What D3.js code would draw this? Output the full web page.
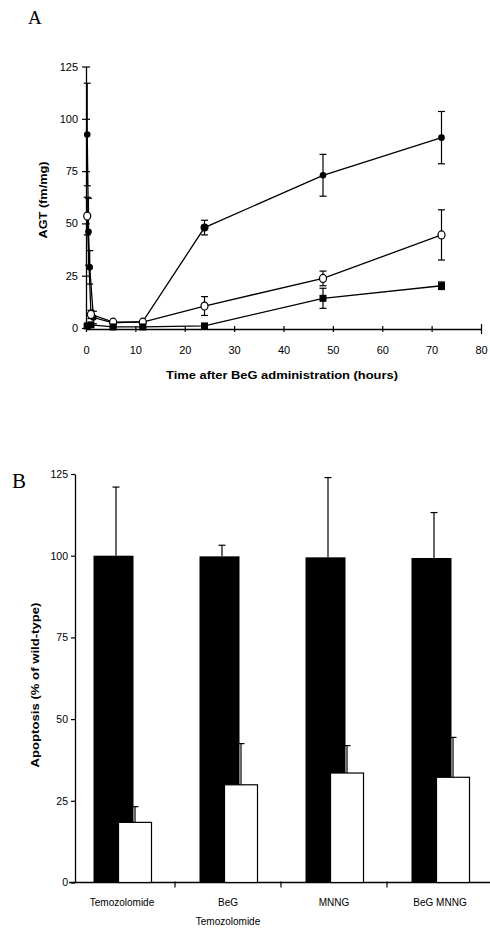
<!DOCTYPE html>
<html>
<head>
<meta charset="utf-8">
<script src="https://cdn.jsdelivr.net/npm/d3@7"></script>
<style>
  body { margin: 0; background: #fff; }
  svg { display: block; }
  text { font-family: "Liberation Sans", Arial, sans-serif; fill: #000; }
</style>
</head>
<body>
<div id="chart"></div>
<script>
// ---- Panel A data: AGT (fm/mg) vs time after BeG (hours)
const xTicksA = [0, 10, 20, 30, 40, 50, 60, 70, 80];
const yTicksA = [0, 25, 50, 75, 100, 125];

const filledCircleT = [0.25, 0.5, 0.75, 1.5, 5.5, 11.5, 24, 48, 72];
const filledCircleV = [92.5, 46, 29, 5, 2.5, 3, 48, 73, 91];
const filledCircleE = [24.5, 16, 8, 3, 0.5, 0.5, 3.5, 10, 12.5];

const openCircleT = [0.25, 1, 5.5, 11.5, 24, 48, 72];
const openCircleV = [53.5, 6.5, 2.8, 2.8, 10.5, 23.7, 44.5];
const openCircleE = [9, 2, 0.5, 0.5, 4.5, 3.5, 12];

const squareT = [0.25, 1, 5.5, 11.5, 24, 48, 72];
const squareV = [1, 1.5, 0.5, 0.5, 1, 14.2, 20.2];
const squareE = [0.5, 0.5, 0.3, 0.3, 0.5, 4.8, 1.8];

// ---- Panel B data: apoptosis (% of wild-type)
const groupsB = ["Temozolomide", "BeG Temozolomide", "MNNG", "BeG MNNG"];
const groupLines = [["Temozolomide"], ["BeG", "Temozolomide"], ["MNNG"], ["BeG MNNG"]];
const blackV = [100, 99.8, 99.5, 99.3];
const blackE = [21, 3.4, 24.4, 13.9];
const whiteV = [18.4, 29.9, 33.5, 32.2];
const whiteE = [4.8, 12.6, 8.4, 12.2];
const yTicksB = [0, 25, 50, 75, 100, 125];

const svg = d3.select("#chart").append("svg")
  .attr("width", 490)
  .attr("height", 929);

// panel letters
svg.append("text").attr("x", 28).attr("y", 24)
  .style("font-family", "'Liberation Serif', 'Times New Roman', serif")
  .style("font-size", "19px").text("A");
svg.append("text").attr("x", 12).attr("y", 488)
  .style("font-family", "'Liberation Serif', 'Times New Roman', serif")
  .style("font-size", "21px").text("B");

// =================== Panel A ===================
const x = d3.scaleLinear().domain([0, 80]).range([86, 481]);
const y = d3.scaleLinear().domain([0, 125]).range([328, 66.5]);

const axA = svg.append("g")
  .attr("transform", `translate(0,${y(0) + 1})`)
  .call(d3.axisBottom(x).tickValues(xTicksA).tickSizeOuter(0));
axA.select(".domain").attr("stroke-width", 1.3);
axA.selectAll(".tick line")
  .attr("y1", d => d === 80 ? -5 : -3)
  .attr("y2", d => d === 80 ? 5 : 3)
  .attr("stroke-width", 1.2);
axA.selectAll(".tick text")
  .attr("y", 21).attr("dy", "0.35em")
  .style("font-size", "11px");

const ayA = svg.append("g")
  .attr("transform", `translate(${x(0)},0)`)
  .call(d3.axisLeft(y).tickValues(yTicksA).tickSizeOuter(0));
ayA.select(".domain").attr("stroke-width", 1.3);
ayA.selectAll(".tick line").attr("x1", -4).attr("x2", 4).attr("stroke-width", 1.2);
ayA.selectAll(".tick text").attr("x", -8).style("font-size", "11px");

svg.append("text")
  .attr("x", 282).attr("y", 379)
  .attr("text-anchor", "middle")
  .attr("textLength", 232).attr("lengthAdjust", "spacingAndGlyphs")
  .style("font-size", "10.5px").style("font-weight", "bold")
  .text("Time after BeG administration (hours)");

svg.append("text")
  .attr("transform", "translate(47,200) rotate(-90)")
  .attr("text-anchor", "middle")
  .attr("textLength", 77).attr("lengthAdjust", "spacingAndGlyphs")
  .style("font-size", "10.5px").style("font-weight", "bold")
  .text("AGT (fm/mg)");

const line = d3.line().x(d => x(d.t)).y(d => y(d.v));

function series(ts, vs, es) {
  return ts.map((t, i) => ({ t: t, v: vs[i], e: es[i] }));
}
const seriesA = [
  { kind: "fc", pts: series(filledCircleT, filledCircleV, filledCircleE) },
  { kind: "oc", pts: series(openCircleT, openCircleV, openCircleE) },
  { kind: "sq", pts: series(squareT, squareV, squareE) }
];

seriesA.forEach(s => {
  svg.append("path")
    .datum(s.pts)
    .attr("d", line)
    .attr("fill", "none")
    .attr("stroke", "#000")
    .attr("stroke-width", 1.3);

  const eb = svg.append("g").selectAll("g").data(s.pts).enter().append("g")
    .attr("stroke", "#000").attr("stroke-width", 1.2);
  eb.append("line")
    .attr("x1", d => x(d.t)).attr("x2", d => x(d.t))
    .attr("y1", d => y(d.v - d.e)).attr("y2", d => y(d.v + d.e));
  eb.append("line")
    .attr("x1", d => x(d.t) - 3.5).attr("x2", d => x(d.t) + 3.5)
    .attr("y1", d => y(d.v + d.e)).attr("y2", d => y(d.v + d.e));
  eb.append("line")
    .attr("x1", d => x(d.t) - 3.5).attr("x2", d => x(d.t) + 3.5)
    .attr("y1", d => y(d.v - d.e)).attr("y2", d => y(d.v - d.e));

  const m = svg.append("g").selectAll("g").data(s.pts).enter();
  if (s.kind === "fc") {
    m.append("circle")
      .attr("cx", d => x(d.t)).attr("cy", d => y(d.v))
      .attr("r", d => d.t === 24 ? 4 : 3.3)
      .attr("fill", "#000");
  } else if (s.kind === "oc") {
    m.append("ellipse")
      .attr("cx", d => x(d.t)).attr("cy", d => y(d.v))
      .attr("rx", 3.5).attr("ry", 4)
      .attr("fill", "#fff").attr("stroke", "#000").attr("stroke-width", 1.2);
  } else {
    m.append("rect")
      .attr("x", d => x(d.t) - 3.5).attr("y", d => y(d.v) - 3.5)
      .attr("width", 7).attr("height", 7)
      .attr("fill", "#000");
  }
});

// =================== Panel B ===================
const xB = d3.scaleBand().domain(groupsB).range([69, 493]).padding(0);
const yB = d3.scaleLinear().domain([0, 125]).range([882.5, 474]);

const axB = svg.append("g")
  .attr("transform", `translate(0,${yB(0)})`)
  .call(d3.axisBottom(xB).tickSize(0).tickSizeOuter(0));
axB.select(".domain").attr("stroke-width", 1.3).attr("d", "M69,0H490");
axB.selectAll(".tick text").remove();
axB.selectAll(".tick").each(function (d, i) {
  const t = d3.select(this);
  const lines = groupLines[i];
  lines.forEach((s, j) => {
    t.append("text")
      .attr("y", 20 + j * 19).attr("dy", "0.35em")
      .attr("text-anchor", "middle")
      .attr("fill", "#000")
      .style("font-size", "10px")
      .text(s);
  });
});
// boundary ticks between groups
axB.selectAll(".sep").data(groupsB.slice(1)).enter().append("line")
  .attr("x1", d => xB(d)).attr("x2", d => xB(d))
  .attr("y1", -1).attr("y2", 5)
  .attr("stroke", "#000").attr("stroke-width", 1.2);

const ayB = svg.append("g")
  .attr("transform", "translate(75,0)")
  .call(d3.axisLeft(yB).tickValues(yTicksB).tickSizeInner(4).tickSizeOuter(0).tickPadding(3));
ayB.select(".domain").attr("stroke-width", 1.3);
ayB.selectAll(".tick line").attr("stroke-width", 1.2);
ayB.selectAll(".tick text").style("font-size", "10.5px");

svg.append("text")
  .attr("transform", "translate(39,685) rotate(-90)")
  .attr("text-anchor", "middle")
  .attr("textLength", 165).attr("lengthAdjust", "spacingAndGlyphs")
  .style("font-size", "11px").style("font-weight", "bold")
  .text("Apoptosis (% of wild-type)");

const bw = xB.bandwidth();
const gB = svg.append("g").selectAll("g").data(groupsB).enter().append("g");

// black bars with upper error bars
gB.append("line")
  .attr("x1", (d, i) => xB(d) + bw / 2 - 6).attr("x2", (d, i) => xB(d) + bw / 2 - 6)
  .attr("y1", (d, i) => yB(blackV[i])).attr("y2", (d, i) => yB(blackV[i] + blackE[i]))
  .attr("stroke", "#000").attr("stroke-width", 1.2);
gB.append("line")
  .attr("x1", (d, i) => xB(d) + bw / 2 - 9.5).attr("x2", (d, i) => xB(d) + bw / 2 - 2.5)
  .attr("y1", (d, i) => yB(blackV[i] + blackE[i])).attr("y2", (d, i) => yB(blackV[i] + blackE[i]))
  .attr("stroke", "#000").attr("stroke-width", 1.2);
gB.append("rect")
  .attr("x", d => xB(d) + bw / 2 - 28.5)
  .attr("y", (d, i) => yB(blackV[i]))
  .attr("width", 40)
  .attr("height", (d, i) => yB(0) - yB(blackV[i]))
  .attr("fill", "#000");

// white bars with upper error bars
gB.append("line")
  .attr("x1", d => xB(d) + bw / 2 + 13).attr("x2", d => xB(d) + bw / 2 + 13)
  .attr("y1", (d, i) => yB(whiteV[i])).attr("y2", (d, i) => yB(whiteV[i] + whiteE[i]))
  .attr("stroke", "#000").attr("stroke-width", 1.2);
gB.append("line")
  .attr("x1", d => xB(d) + bw / 2 + 9.5).attr("x2", d => xB(d) + bw / 2 + 16.5)
  .attr("y1", (d, i) => yB(whiteV[i] + whiteE[i])).attr("y2", (d, i) => yB(whiteV[i] + whiteE[i]))
  .attr("stroke", "#000").attr("stroke-width", 1.2);
gB.append("rect")
  .attr("x", d => xB(d) + bw / 2 - 3.5)
  .attr("y", (d, i) => yB(whiteV[i]))
  .attr("width", 33)
  .attr("height", (d, i) => yB(0) - yB(whiteV[i]))
  .attr("fill", "#fff")
  .attr("stroke", "#000").attr("stroke-width", 1.2);
</script>
</body>
</html>
